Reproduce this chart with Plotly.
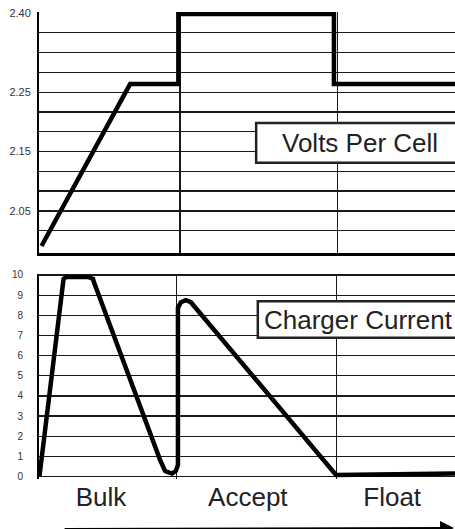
import plotly.graph_objects as go

# ---- Data (time in % of chart width, values in chart units) ----
# Volts-per-cell panel: values on a "grid level" scale (gridlines 1..12)
volt_time = [0.6, 21.9, 33.5, 33.5, 70.9, 70.9, 100.0]
volt_level = [0.23, 8.41, 8.41, 11.95, 11.95, 8.41, 8.41]
volt_tick_levels = [1, 2, 3, 4, 5, 6, 7, 8, 9, 10, 11, 12]
volt_tick_text = ["", "2.05", "", "", "2.15", "", "", "2.25", "", "", "", "2.40"]
volt_phase_grid = [33.9, 71.8]

# Charger current panel
amp_time = [0.1, 5.9, 6.5, 11.8, 13.0, 13.2, 29.1, 30.3, 30.8, 32.0, 32.9, 33.4,
            33.4, 34.1, 35.3, 36.5, 71.4, 100.0]
amp_value = [0.0, 9.8, 9.9, 9.9, 9.8, 9.65, 0.83, 0.28, 0.23, 0.15, 0.28, 0.58,
             8.36, 8.65, 8.75, 8.65, 0.08, 0.15]
amp_ticks = [0, 1, 2, 3, 4, 5, 6, 7, 8, 9, 10]
amp_phase_grid = [33.1, 71.56]

phase_labels = ["Bulk", "Accept", "Float"]
phase_label_pos = [14.9, 50.2, 84.9]

FONT = "Liberation Sans, Arial, sans-serif"
GRID = "#1a1a1a"
BOX = "#222"

fig = go.Figure()
fig.add_trace(go.Scatter(x=volt_time, y=volt_level, mode="lines",
                         line=dict(color="black", width=4.5),
                         xaxis="x", yaxis="y", showlegend=False, hoverinfo="skip"))
fig.add_trace(go.Scatter(x=amp_time, y=amp_value, mode="lines",
                         line=dict(color="black", width=4.5),
                         xaxis="x2", yaxis="y2", showlegend=False, hoverinfo="skip"))

fig.update_layout(
    width=455, height=529,
    margin=dict(l=39, r=0, t=12, b=50, pad=0),
    paper_bgcolor="white", plot_bgcolor="white",
    showlegend=False,
    xaxis=dict(domain=[0, 1], anchor="y", range=[0, 100],
               tickvals=volt_phase_grid, showticklabels=False, ticks="",
               showgrid=True, gridcolor=GRID, gridwidth=1.3, zeroline=False,
               showline=True, linecolor="black", linewidth=3.5),
    yaxis=dict(domain=[0.485, 1], anchor="x", range=[-0.1, 12.05],
               tickvals=volt_tick_levels, ticktext=volt_tick_text, ticks="",
               showgrid=True, gridcolor=GRID, gridwidth=1.3, zeroline=False,
               showline=True, linecolor="black", linewidth=2,
               ticklabelstandoff=4, ticklabeloverflow="allow",
               tickfont=dict(family=FONT, size=11, color="#333")),
    xaxis2=dict(domain=[0, 1], anchor="y2", range=[0, 100],
                tickvals=phase_label_pos, ticktext=phase_labels, ticks="",
                showgrid=False, zeroline=False, showline=False,
                minor=dict(tickvals=amp_phase_grid, showgrid=True,
                           gridcolor=GRID, gridwidth=1.3),
                ticklabelstandoff=0, ticklabeloverflow="allow",
                tickfont=dict(family=FONT, size=26, color="#222")),
    yaxis2=dict(domain=[0, 0.439], anchor="x2", range=[-0.12, 10.05],
                tickvals=amp_ticks, ticks="",
                showgrid=True, gridcolor=GRID, gridwidth=1.3, zeroline=False,
                showline=True, linecolor="black", linewidth=2,
                ticklabelstandoff=12, ticklabeloverflow="allow",
                tickfont=dict(family=FONT, size=10, color="#333")),
    shapes=[
        dict(type="rect", xref="x", yref="y", x0=52.2, x1=106, y0=4.44, y1=6.44,
             fillcolor="white", line=dict(color=BOX, width=2.5), layer="above"),
        dict(type="rect", xref="x2", yref="y2", x0=52.6, x1=106, y0=6.89, y1=8.70,
             fillcolor="white", line=dict(color=BOX, width=2.5), layer="above"),
    ],
    annotations=[
        dict(x=77.2, xref="x", y=5.44, yref="y", xanchor="center", yanchor="middle",
             text="Volts Per Cell", showarrow=False,
             font=dict(family=FONT, size=26, color="#222")),
        dict(x=76.7, xref="x2", y=7.79, yref="y2", xanchor="center", yanchor="middle",
             text="Charger Current", showarrow=False,
             font=dict(family=FONT, size=26, color="#222")),
        dict(x=1.005, xref="paper", y=-0.109, yref="paper",
             ax=-394, ay=0, axref="pixel", ayref="pixel",
             text="", showarrow=True, arrowhead=2, arrowsize=1.4,
             arrowwidth=2, arrowcolor="black"),
    ],
)

fig.write_html(
    "out.html",
    config={"displayModeBar": False, "staticPlot": True},
    post_script="document.body.style.margin='0';"
                "document.body.style.overflow='hidden';",
)
